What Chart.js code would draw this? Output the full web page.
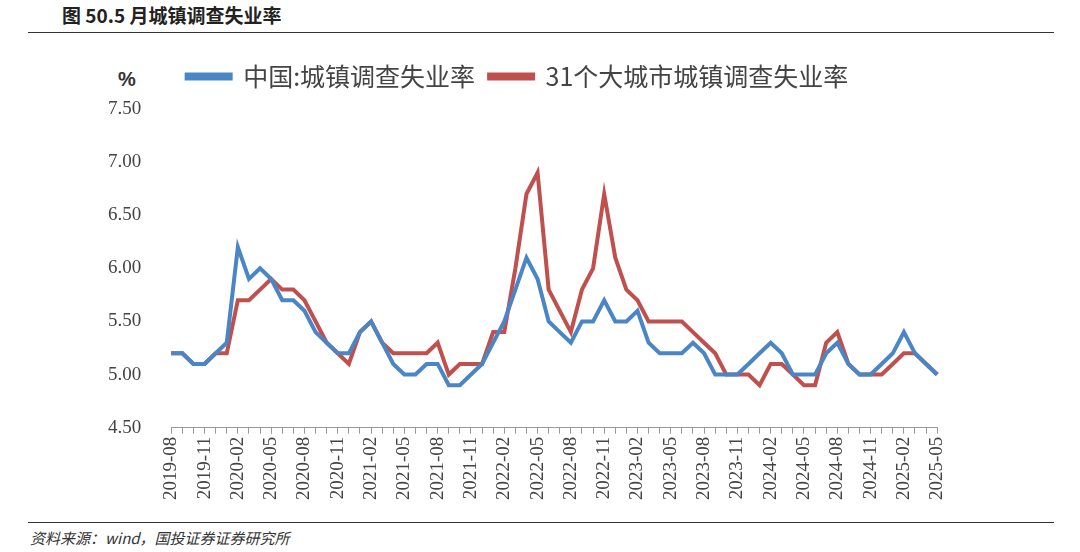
<!DOCTYPE html>
<html>
<head>
<meta charset="utf-8">
<script src="https://cdn.jsdelivr.net/npm/chart.js@4/dist/chart.umd.min.js"></script>
<style>
    body { margin: 0; width: 1080px; height: 552px; background: #fff; font-family: "Noto Sans CJK SC", sans-serif; position: relative; overflow: hidden; }
    .title { position: absolute; left: 62px; top: 1px; font-size: 19px; font-weight: bold; color: #222; }
    .rule { position: absolute; left: 28px; width: 1026px; height: 1px; background: #333; }
    .unit { position: absolute; left: 118px; top: 68px; font-size: 20px; font-weight: bold; color: #333; font-family: "Liberation Sans", sans-serif; }
    .source { position: absolute; left: 30px; top: 527px; font-size: 15px; font-style: italic; color: #333; }
    #wrap { position: absolute; left: 86px; top: 50px; width: 877px; height: 453px; }
</style>
</head>
<body>
<div class="title">图 50.5 月城镇调查失业率</div>
<div class="rule" style="top:32px"></div>
<div class="unit">%</div>
<div id="wrap"><canvas id="chart"></canvas></div>
<div class="rule" style="top:522px"></div>
<div class="source">资料来源：wind，国投证券证券研究所</div>
<script>
    "use strict";

    // months 2019-08 .. 2025-05
    var months = [];
    for (var y = 2019; y <= 2025; y++) {
        for (var m = 1; m <= 12; m++) {
            if ((y === 2019 && m < 8) || (y === 2025 && m > 5)) continue;
            months.push(y + '-' + (m < 10 ? '0' : '') + m);
        }
    }

    var national = [5.2, 5.2, 5.1, 5.1, 5.2,
        5.3, 6.2, 5.9, 6.0, 5.9, 5.7, 5.7, 5.6, 5.4, 5.3, 5.2, 5.2,
        5.4, 5.5, 5.3, 5.1, 5.0, 5.0, 5.1, 5.1, 4.9, 4.9, 5.0, 5.1,
        5.3, 5.5, 5.8, 6.1, 5.9, 5.5, 5.4, 5.3, 5.5, 5.5, 5.7, 5.5,
        5.5, 5.6, 5.3, 5.2, 5.2, 5.2, 5.3, 5.2, 5.0, 5.0, 5.0, 5.1,
        5.2, 5.3, 5.2, 5.0, 5.0, 5.0, 5.2, 5.3, 5.1, 5.0, 5.0, 5.1,
        5.2, 5.4, 5.2, 5.1, 5.0];

    var bigCities = [5.2, 5.2, 5.1, 5.1, 5.2,
        5.2, 5.7, 5.7, 5.8, 5.9, 5.8, 5.8, 5.7, 5.5, 5.3, 5.2, 5.1,
        5.4, 5.5, 5.3, 5.2, 5.2, 5.2, 5.2, 5.3, 5.0, 5.1, 5.1, 5.1,
        5.4, 5.4, 6.0, 6.7, 6.9, 5.8, 5.6, 5.4, 5.8, 6.0, 6.7, 6.1,
        5.8, 5.7, 5.5, 5.5, 5.5, 5.5, 5.4, 5.3, 5.2, 5.0, 5.0, 5.0,
        4.9, 5.1, 5.1, 5.0, 4.9, 4.9, 5.3, 5.4, 5.1, 5.0, 5.0, 5.0,
        5.1, 5.2, 5.2, 5.1, 5.0];

    var yTicks = [4.5, 5.0, 5.5, 6.0, 6.5, 7.0, 7.5];

    // extra gap below the legend
    var legendGap = {
        id: 'legendGap',
        beforeInit: function (chart) {
            var fit = chart.legend.fit;
            chart.legend.fit = function () {
                fit.bind(chart.legend)();
                this.height += 10;
            };
        }
    };

    var ctx = document.getElementById('chart').getContext('2d');
    var myChart = new Chart(ctx, {
        type: 'line',
        data: {
            labels: months,
            datasets: [{
                label: '中国:城镇调查失业率',
                data: national,
                borderColor: '#4a86c5',
                backgroundColor: '#4a86c5',
                borderWidth: 4,
                pointRadius: 0,
                tension: 0
            }, {
                label: '31个大城市城镇调查失业率',
                data: bigCities,
                borderColor: '#c0504d',
                backgroundColor: '#c0504d',
                borderWidth: 4,
                pointRadius: 0,
                tension: 0
            }]
        },
        plugins: [legendGap],
        options: {
            responsive: true,
            maintainAspectRatio: false,
            animation: false,
            layout: { padding: { right: 14 } },
            plugins: {
                legend: {
                    position: 'top',
                    align: 'center',
                    labels: {
                        boxWidth: 44, boxHeight: 4, padding: 14,
                        color: '#444',
                        font: { size: 25, family: '"Noto Sans CJK SC"' }
                    }
                },
                tooltip: { enabled: false }
            },
            scales: {
                x: {
                    grid: { display: true, drawOnChartArea: false, color: '#999', tickLength: 6 },
                    border: { color: '#999' },
                    ticks: {
                        autoSkip: false, minRotation: 90, maxRotation: 90,
                        color: '#444', font: { size: 19, family: '"Liberation Serif"' },
                        callback: function (v, i) { return i % 3 === 0 ? months[i] : ''; }
                    }
                },
                y: {
                    min: 4.5, max: 7.5,
                    afterBuildTicks: function (axis) {
                        axis.ticks = yTicks.map(function (v) { return { value: v }; });
                    },
                    grid: { display: false },
                    border: { display: false },
                    ticks: {
                        color: '#444', padding: 22,
                        font: { size: 19, family: '"Liberation Serif"' },
                        callback: function (v) { return v.toFixed(2); }
                    }
                }
            }
        }
    });
</script>
</body>
</html>
